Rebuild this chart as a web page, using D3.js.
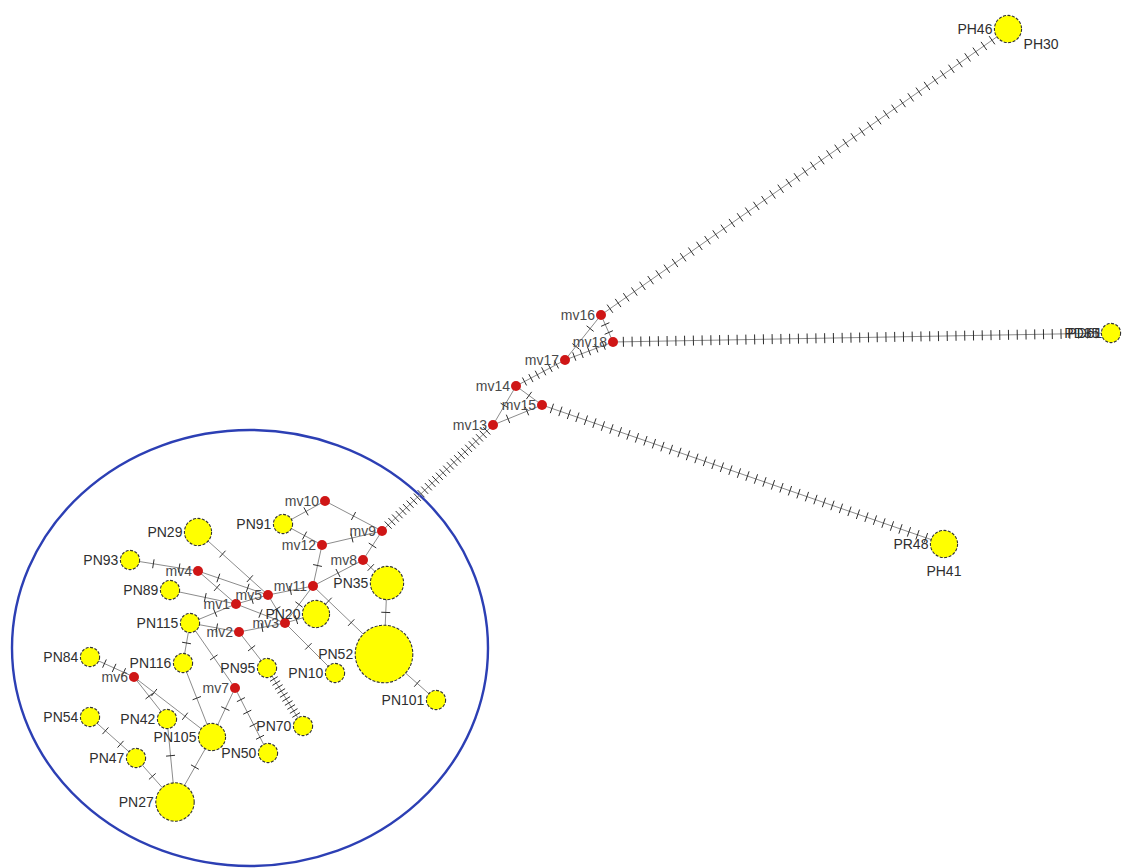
<!DOCTYPE html>
<html>
<head>
<meta charset="utf-8">
<script src="https://cdn.jsdelivr.net/npm/d3@7"></script>
<style>
  body { margin: 0; background: #ffffff; }
  svg { display: block; }
  text { font-family: "Liberation Sans", Arial, sans-serif; }
</style>
</head>
<body>
<svg id="net" width="1123" height="868"></svg>
<script>
// ---- Haplotypes (sampled sequences) ----
const haplotypes = ["PN29","PN93","PN89","PN115","PN116","PN84","PN54","PN42","PN47","PN105",
                    "PN27","PN95","PN50","PN70","PN10","PN101","PN52","PN35","PN20","PN91",
                    "PH46","PD35","PR48"];
// number of individuals sharing each haplotype
const hapFreq = [2,1,1,1,1,1,1,1,1,2, 4,1,1,1,1,1,9,3,2,1, 2,1,2];
// second name merged into the same node
const hapAltName = ["","","","","","","","","","", "","","","","","","","","","", "PH30","PD61","PH41"];
// network layout coordinates (layout units)
const hapX = [19.8,13.0,17.0,19.0,18.3, 9.0, 9.0,16.7,13.6,21.2, 17.5,26.7,26.8,30.3,33.5,43.6,38.4,38.7,31.6,28.3, 100.8,111.1,94.4];
const hapY = [53.2,56.0,59.0,62.3,66.3,65.7,71.7,71.9,75.8,73.7, 80.2,66.8,75.3,72.6,67.3,70.0,65.4,58.3,61.4,52.4,  2.9, 33.3,54.4];

// ---- Median vectors (inferred ancestral / unsampled nodes) ----
const medians = ["mv1","mv2","mv3","mv4","mv5","mv6","mv7","mv8","mv9","mv10","mv11","mv12",
                 "mv13","mv14","mv15","mv16","mv17","mv18"];
const mvX = [23.6,23.9,28.5,19.8,26.8,13.4,23.5,36.3,38.2,32.5,31.3,32.2, 49.3,51.6,54.2,60.1,56.5,61.3];
const mvY = [60.4,63.2,62.3,57.1,59.5,67.7,68.8,56.0,53.1,50.1,58.6,54.5, 42.5,38.6,40.5,31.5,36.0,34.2];

// ---- Links and number of mutational steps on each ----
const linkSource = ["PN91","mv10","PN91","mv12","mv9","mv12","mv8","mv8","PN35","mv11",
                    "PN29","mv4","PN93","mv4","PN89","mv1","PN115","mv1","mv5","mv3",
                    "mv5","mv3","mv11","PN115","mv2","mv2","PN115","PN115","PN116","mv7",
                    "mv7","PN95","PN84","mv6","mv6","PN42","PN105","PN54","PN47","PN52",
                    "mv9","mv13","mv13","mv14","mv14","mv17","mv16","mv16","mv16","mv18","mv15"];
const linkTarget = ["mv10","mv9","mv12","mv9","mv8","mv11","mv11","PN35","PN52","PN52",
                    "mv5","mv5","mv4","mv1","mv1","mv5","mv1","mv3","mv3","PN20",
                    "mv11","PN10","mv3","mv2","mv3","PN95","PN116","mv7","PN105","PN105",
                    "PN50","PN70","mv6","PN42","PN105","PN27","PN27","PN47","PN27","PN101",
                    "mv13","mv14","mv15","mv15","mv17","mv18","mv17","mv18","PH46","PD35","PR48"];
const linkSteps  = [1,1,1,1,1,1,1,1,1,2,
                    2,2,2,1,1,1,1,1,1,1,
                    1,1,1,1,1,1,1,1,1,1,
                    4,10,3,1,2,1,1,2,1,1,
                    28,1,2,1,6,5,2,2,48,55,45];

// Group of haplotypes enclosed by the annotation ellipse (layout units)
const groupEllipse = { cx: 25.0, cy: 64.8, rx: 23.8, ry: 21.8 };

// ---- Drawing ----
const W = 1123, H = 868;
const x = d3.scaleLinear().domain([0, 112.3]).range([0, W]);
const y = d3.scaleLinear().domain([0, 86.8]).range([0, H]);
const rScale = d3.scaleSqrt().domain([0, 1]).range([0, 9.6]);
const MV_R = 5;

const nodes = new Map();
haplotypes.forEach((id, i) => nodes.set(id, {
  id, kind: "hap", x: x(hapX[i]), y: y(hapY[i]), r: rScale(hapFreq[i]), alt: hapAltName[i]
}));
medians.forEach((id, i) => nodes.set(id, {
  id, kind: "mv", x: x(mvX[i]), y: y(mvY[i]), r: MV_R
}));
const links = linkSource.map((s, i) => ({ s: nodes.get(s), t: nodes.get(linkTarget[i]), n: linkSteps[i] }));

const svg = d3.select("#net");

// enclosing ellipse
svg.append("ellipse")
  .attr("cx", x(groupEllipse.cx)).attr("cy", y(groupEllipse.cy))
  .attr("rx", x(groupEllipse.rx) - x(0)).attr("ry", y(groupEllipse.ry) - y(0))
  .attr("fill", "none").attr("stroke", "#2c3fb4").attr("stroke-width", 2.4);

// links
svg.append("g").selectAll("line").data(links).join("line")
  .attr("x1", d => d.s.x).attr("y1", d => d.s.y)
  .attr("x2", d => d.t.x).attr("y2", d => d.t.y)
  .attr("stroke", "#8c8c8c").attr("stroke-width", 1);

// mutation hatch marks, spread evenly between node rims
const hatches = [];
links.forEach(l => {
  const dx = l.t.x - l.s.x, dy = l.t.y - l.s.y;
  const len = Math.hypot(dx, dy);
  const ux = dx / len, uy = dy / len;
  const a = l.s.r + 1, b = len - l.t.r - 1;
  for (let k = 0; k < l.n; k++) {
    const d = a + (b - a) * (k + 0.5) / l.n;
    hatches.push({ cx: l.s.x + ux * d, cy: l.s.y + uy * d, nx: -uy, ny: ux, h: l.n > 20 ? 5 : 4.5 });
  }
});
svg.append("g").selectAll("line").data(hatches).join("line")
  .attr("x1", d => d.cx - d.nx * d.h).attr("y1", d => d.cy - d.ny * d.h)
  .attr("x2", d => d.cx + d.nx * d.h).attr("y2", d => d.cy + d.ny * d.h)
  .attr("stroke", "#2e2e2e").attr("stroke-width", 1);

const all = Array.from(nodes.values());
const haps = all.filter(d => d.kind === "hap");
const mvs = all.filter(d => d.kind === "mv");

// haplotype circles
svg.append("g").selectAll("circle").data(haps).join("circle")
  .attr("cx", d => d.x).attr("cy", d => d.y).attr("r", d => d.r)
  .attr("fill", "#ffff00").attr("stroke", "#333333").attr("stroke-width", 1.1)
  .attr("stroke-dasharray", "3,1.5");

// median vectors
svg.append("g").selectAll("circle").data(mvs).join("circle")
  .attr("cx", d => d.x).attr("cy", d => d.y).attr("r", d => d.r)
  .attr("fill", "#cf1616");

// labels, placed to the left of each node
svg.append("g").selectAll("text").data(all).join("text")
  .attr("x", d => d.x - d.r - (d.kind === "hap" ? 2 : 1))
  .attr("y", d => d.y)
  .attr("dy", "0.36em")
  .attr("text-anchor", "end")
  .attr("font-size", 14)
  .attr("fill", d => d.kind === "hap" ? "#2f2f2f" : "#4a4a4a")
  .text(d => d.id);

// second names of merged haplotypes
const altPlace = {
  PH46: d => ({ x: d.x + d.r + 2, y: d.y + 15, anchor: "start" }),
  PR48: d => ({ x: d.x - d.r - 4, y: d.y + 27, anchor: "start" }),
  PD35: d => ({ x: d.x - d.r + 1, y: d.y, anchor: "end" })
};
svg.append("g").selectAll("text").data(haps.filter(d => d.alt)).join("text")
  .each(function (d) {
    const p = altPlace[d.id](d);
    d3.select(this).attr("x", p.x).attr("y", p.y).attr("text-anchor", p.anchor);
  })
  .attr("dy", "0.36em")
  .attr("font-size", 14)
  .attr("fill", "#2f2f2f")
  .text(d => d.alt);
</script>
</body>
</html>
